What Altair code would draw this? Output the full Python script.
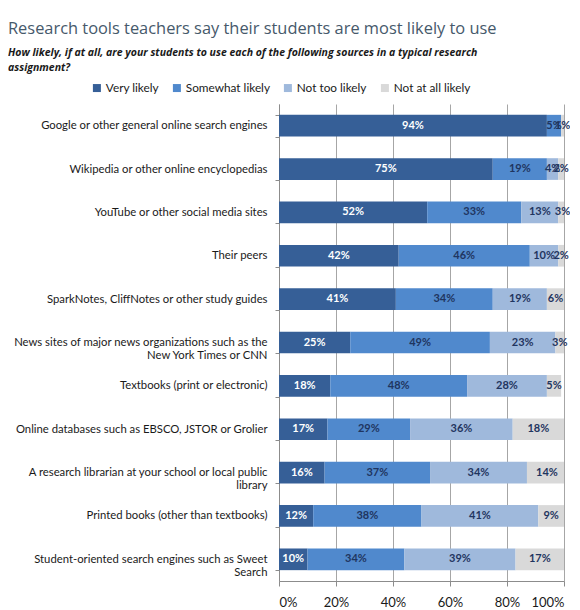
import altair as alt
import pandas as pd

categories = [
    "Google or other general online search engines",
    "Wikipedia or other online encyclopedias",
    "YouTube or other social media sites",
    "Their peers",
    "SparkNotes, CliffNotes or other study guides",
    "News sites of major news organizations such as the\nNew York Times or CNN",
    "Textbooks (print or electronic)",
    "Online databases such as EBSCO, JSTOR or Grolier",
    "A research librarian at your school or local public\nlibrary",
    "Printed books (other than textbooks)",
    "Student-oriented search engines such as Sweet\nSearch",
]
series = ["Very likely", "Somewhat likely", "Not too likely", "Not at all likely"]
very_likely = [94, 75, 52, 42, 41, 25, 18, 17, 16, 12, 10]
somewhat_likely = [5, 19, 33, 46, 34, 49, 48, 29, 37, 38, 34]
not_too_likely = [0, 4, 13, 10, 19, 23, 28, 36, 34, 41, 39]
not_at_all_likely = [1, 2, 3, 2, 6, 3, 5, 18, 14, 9, 17]
colors = ["#365f97", "#5089cd", "#9fb9dc", "#d9d9d9"]
x_ticks = [0, 20, 40, 60, 80, 100]

rows = []
for i, c in enumerate(categories):
    vals = [very_likely[i], somewhat_likely[i], not_too_likely[i], not_at_all_likely[i]]
    for j, s in enumerate(series):
        if vals[j] > 0:
            rows.append({"cat": c, "series": s, "order": j, "value": vals[j]})
df = pd.DataFrame(rows)

base = alt.Chart(df).transform_window(
    cum="sum(value)", groupby=["cat"], sort=[alt.SortField("order")]
).transform_calculate(
    mid="datum.cum - datum.value / 2",
    lab="datum.value + '%'",
)

y_enc = alt.Y(
    "cat:N",
    sort=categories,
    title=None,
    scale=alt.Scale(paddingInner=0.5, paddingOuter=0.25),
    axis=alt.Axis(
        labelExpr="split(datum.label, '\\n')",
        labelFont="Lato",
        labelFontSize=11.3,
        labelColor="#1a1a1a",
        labelLimit=300,
        labelPadding=8,
        tickBand="extent",
        tickSize=4,
        tickColor="#8c8c8c",
        domainColor="#8c8c8c",
        grid=False,
    ),
)

bars = base.mark_bar(clip=True).encode(
    x=alt.X(
        "value:Q",
        stack="zero",
        scale=alt.Scale(domain=[0, 100]),
        title=None,
        axis=alt.Axis(
            values=x_ticks,
            labelExpr="datum.value + '%'",
            labelFont="Lato",
            labelFontSize=13,
            labelColor="#1a1a1a",
            tickSize=5,
            tickColor="#8c8c8c",
            domainColor="#8c8c8c",
            grid=True,
            gridColor="#a6a6a6",
            labelPadding=10,
        ),
    ),
    y=y_enc,
    color=alt.Color(
        "series:N",
        sort=series,
        scale=alt.Scale(domain=series, range=colors),
        legend=alt.Legend(
            title=None,
            orient="none",
            direction="horizontal",
            legendX=-188,
            legendY=-22,
            symbolType="square",
            symbolSize=64,
            symbolStrokeWidth=0,
            labelFont="Lato",
            labelFontSize=11.8,
            labelColor="#1a1a1a",
            labelOffset=3,
            columnPadding=12,
            symbolOffset=0,
        ),
    ),
    order=alt.Order("order:Q"),
)

texts = base.mark_text(font="Lato", fontSize=11, fontWeight="bold").encode(
    x=alt.X("mid:Q"),
    y=alt.Y("cat:N", sort=categories),
    text="lab:N",
    color=alt.condition(
        "datum.order == 0", alt.value("#ffffff"), alt.value("#1f3560")
    ),
)

chart = (
    alt.layer(bars, texts)
    .properties(
        width=285,
        height=477,
        autosize=alt.AutoSizeParams(type="none"),
        padding={"left": 271, "top": 96, "right": 6, "bottom": 29},
        title=alt.Title(
            text="Research tools teachers say their students are most likely to use",
            subtitle=[
                "How likely, if at all, are your students to use each of the following sources in a typical research",
                "assignment?",
            ],
            anchor="start",
            frame="group",
            dx=-271,
            offset=9,
            font="Open Sans",
            fontSize=16.4,
            fontWeight="normal",
            color="#46596b",
            subtitleFont="Open Sans",
            subtitleFontSize=10.5,
            subtitleFontStyle="italic",
            subtitleFontWeight="bold",
            subtitleColor="#1a1a1a",
            subtitlePadding=10,
            subtitleLineHeight=15,
        ),
    )
    .configure_view(stroke=None)
)

chart.save("out.html", embed_options={"renderer": "svg", "actions": False})
